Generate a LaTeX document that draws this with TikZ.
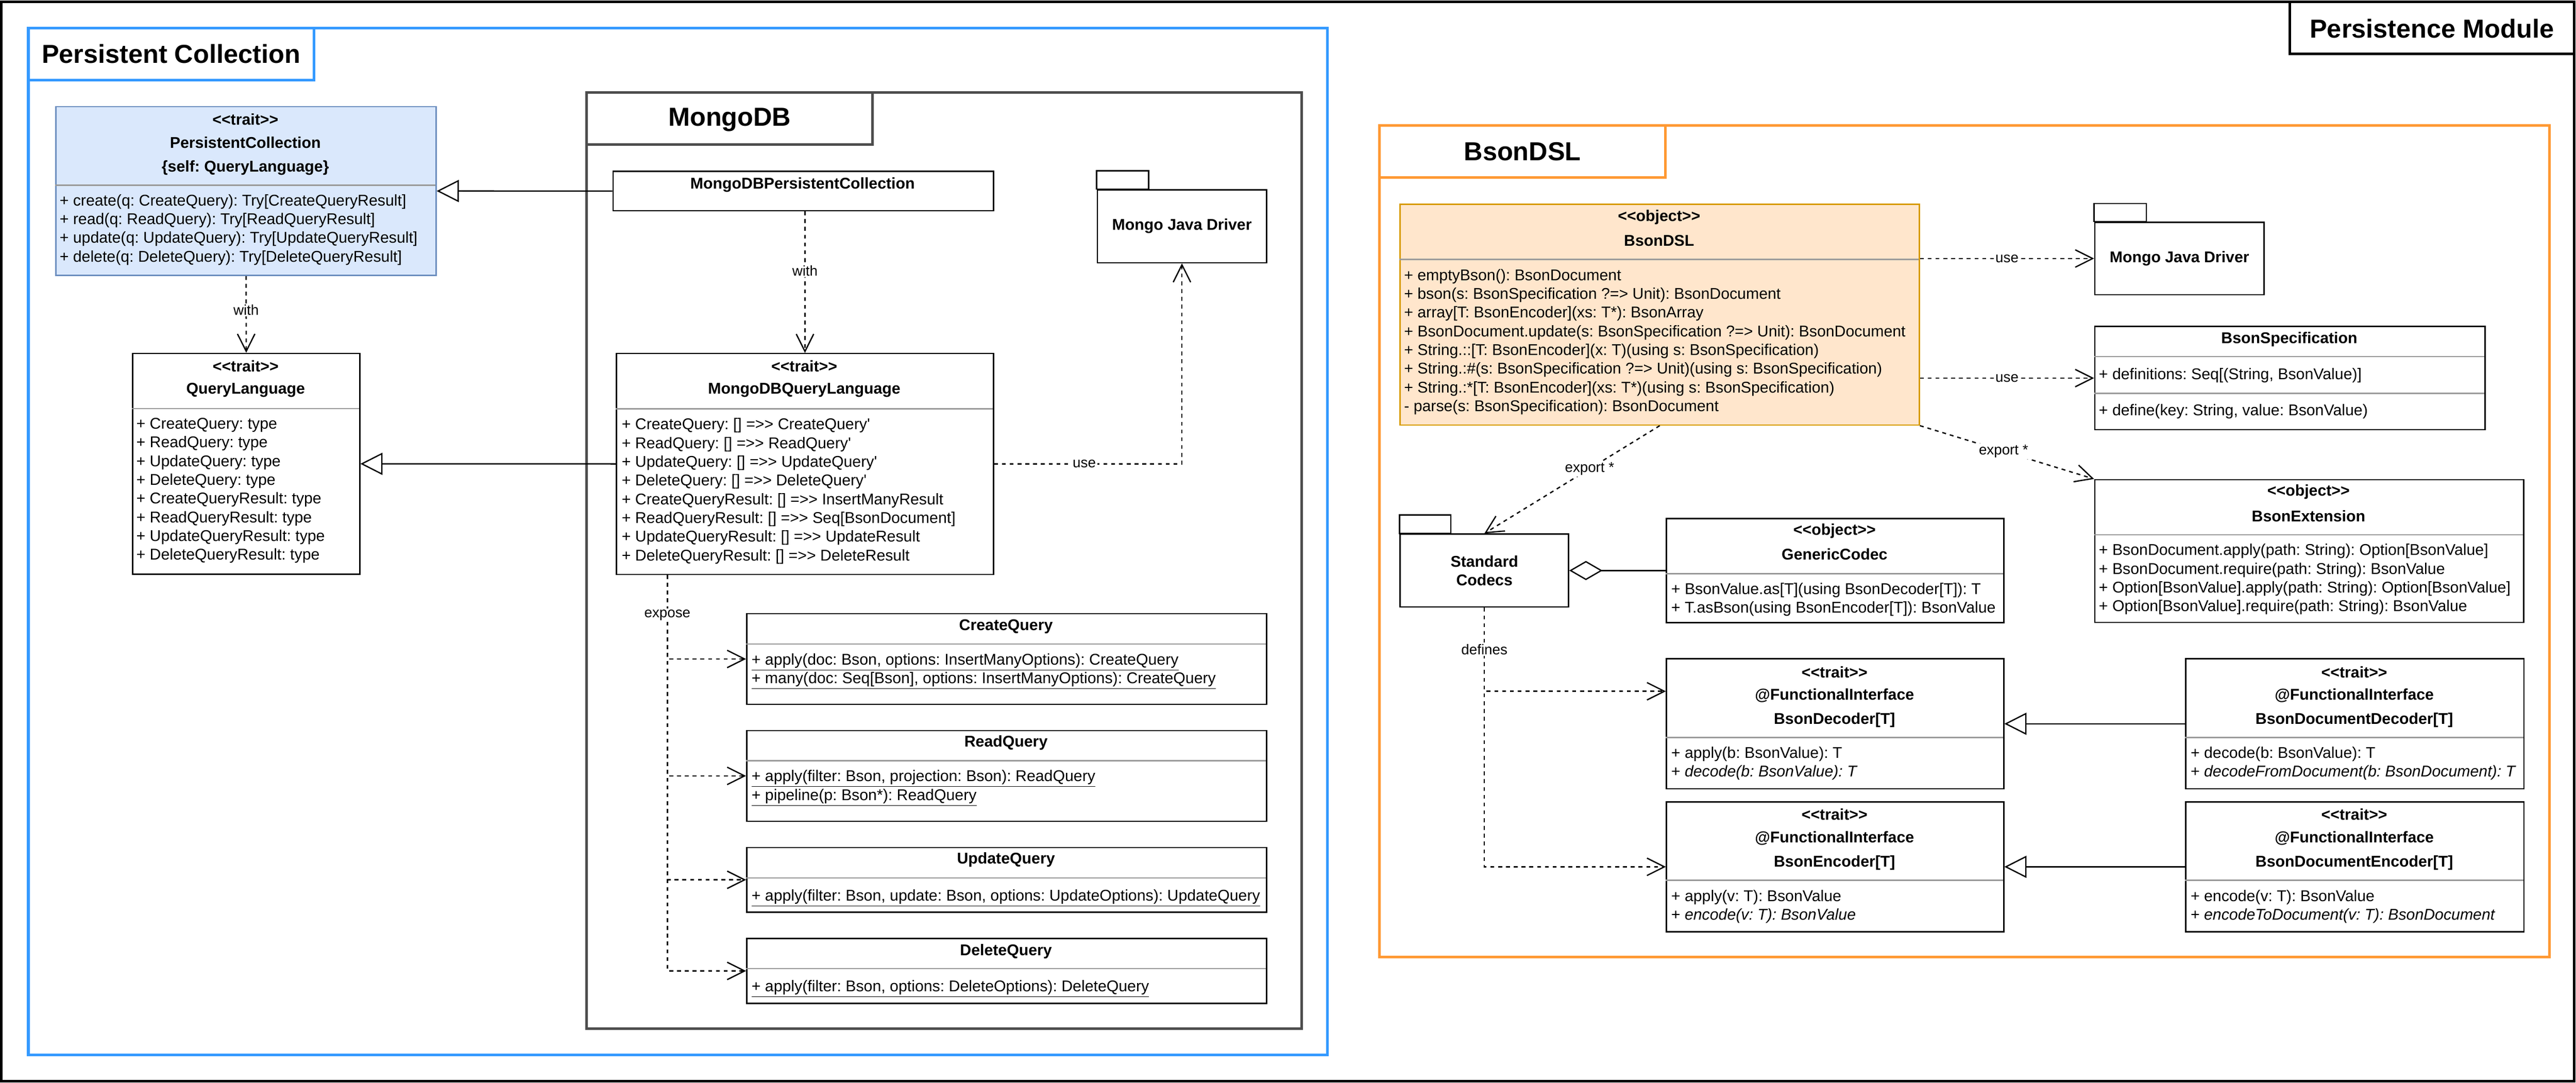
\documentclass[tikz,border=0pt]{standalone}
\usepackage{fontspec}
\setmainfont{Liberation Sans}[Ligatures=TeXOff]
\usepackage{tikz}
\usepackage{xcolor}
\usetikzlibrary{arrows.meta, positioning}

\definecolor{pcblue}{HTML}{3399FF}
\definecolor{mongogrey}{HTML}{4D4D4D}
\definecolor{dslorange}{HTML}{FF9933}
\definecolor{pcfill}{HTML}{DAE8FC}
\definecolor{pcline}{HTML}{6C8EBF}
\definecolor{dslfill}{HTML}{FFE6CC}
\definecolor{dslline}{HTML}{D79B00}
\definecolor{divgrey}{HTML}{999999}

\newcommand{\bodyfont}{\fontsize{12}{14.4}\selectfont\frenchspacing}
\newcommand{\bigfont}{\fontsize{20}{24}\selectfont\bfseries}
\newcommand{\edgefont}{\fontsize{11}{13.2}\selectfont\frenchspacing}

\tikzset{
    frametitle/.style={font=\bigfont, inner sep=0pt},
    classbox/.style={draw, fill=white, line width=1pt, inner sep=0pt, anchor=north west},
    pkgbody/.style={draw, fill=white, line width=1pt, inner sep=0pt, anchor=north west, font=\bodyfont\bfseries, align=center},
    pkgtab/.style={line width=1pt},
    divider/.style={draw=divgrey, line width=1pt},
    header/.style={font=\bodyfont\bfseries, inner sep=0pt},
    member/.style={font=\bodyfont, align=left, inner sep=0pt, anchor=north west, execute at begin node=\strut},
    deplabel/.style={font=\edgefont, fill=white, inner sep=1pt},
    dep/.style={line width=1pt, dash pattern=on 3pt off 3pt, -{Straight Barb[length=13.4pt, width=13.4pt]}},
    generalize/.style={line width=1pt, -{Triangle[length=17pt, width=17pt, fill=white]}},
    aggr/.style={line width=1pt, -{Diamond[length=25.6pt, width=14.8pt, fill=white]}}
}

\begin{document}
\frenchspacing
\begin{tikzpicture}[x=1pt, y=-1pt]
                    \useasboundingbox (0,0) rectangle (1982,833);

                    \draw[line width=2pt] (1,1.4) rectangle (1980.5,831.9);
                    \draw[line width=2pt] (1761.7,1.4) rectangle (1980.5,41.5);
                    \node[frametitle] (moduletitle) at (1871.1,21.8) {Persistence Module};

                    \draw[pcblue, line width=2pt] (21.8,21.5) rectangle (1021.5,811.7);
                    \draw[pcblue, line width=2pt] (21.8,21.5) rectangle (241.5,61.8);
                    \node[frametitle] (pctitle) at (131.6,41.6) {Persistent Collection};

                    \draw[mongogrey, line width=2pt] (451.4,71.3) rectangle (1001.4,791.5);
                    \draw[mongogrey, line width=2pt] (451.4,71.3) rectangle (671.4,111.3);
                    \node[frametitle] (mongotitle) at (561.4,92.3) {MongoDB};

                    \draw[dslorange, line width=2pt] (1061.5,96.5) rectangle (1961.7,736.3);
                    \draw[dslorange, line width=2pt] (1061.5,96.5) rectangle (1281.3,136.4);
                    \node[frametitle] (dsltitle) at (1171.4,116.6) {BsonDSL};

                    \node[classbox, fill=pcfill, draw=pcline, minimum width=292.4pt, minimum height=129.9pt] (pc) at (42.6,81.5) {};
                    \draw[divider] (42.6,142.5) -- (335,142.5);
                    \node[header] (pcst) at (188.8,91.9) {<<trait>>};
                    \node[header] (pcname) at (188.8,109.8) {PersistentCollection};
                    \node[header] (pcself) at (188.8,129) {\{self: QueryLanguage\}};
                    \node[member] (pcm) at (45.7,149.4) {+ create(q: CreateQuery): Try[CreateQueryResult]\\
                        + read(q: ReadQuery): Try[ReadQueryResult]\\
                        + update(q: UpdateQuery): Try[UpdateQueryResult]\\
                        + delete(q: DeleteQuery): Try[DeleteQueryResult]};

                    \node[classbox, minimum width=174.7pt, minimum height=169.9pt] (ql) at (101.6,271.4) {};
                    \draw[divider] (101.6,314.4) -- (276.3,314.4);
                    \node[header] (qlst) at (189,281.7) {<<trait>>};
                    \node[header] (qlname) at (189,300) {QueryLanguage};
                    \node[member] (qlm) at (104.7,321.4) {+ CreateQuery: type\\
                        + ReadQuery: type\\
                        + UpdateQuery: type\\
                        + DeleteQuery: type\\
                        + CreateQueryResult: type\\
                        + ReadQueryResult: type\\
                        + UpdateQueryResult: type\\
                        + DeleteQueryResult: type};

                    \node[classbox, minimum width=292.7pt, minimum height=30.2pt] (mpc) at (471.2,131.4) {};
                    \node[header] (mpcname) at (617.5,142.3) {MongoDBPersistentCollection};

                    \node[classbox, minimum width=290.1pt, minimum height=169.9pt] (mql) at (473.8,271.5) {};
                    \draw[divider] (473.8,314.5) -- (763.9,314.5);
                    \node[header] (mqlst) at (618.8,281.7) {<<trait>>};
                    \node[header] (mqlname) at (618.8,300.1) {MongoDBQueryLanguage};
                    \node[member] (mqlm) at (478.2,321.6) {+ CreateQuery: [] =>> CreateQuery'\\
                        + ReadQuery: [] =>> ReadQuery'\\
                        + UpdateQuery: [] =>> UpdateQuery'\\
                        + DeleteQuery: [] =>> DeleteQuery'\\
                        + CreateQueryResult: [] =>> InsertManyResult\\
                        + ReadQueryResult: [] =>> Seq[BsonDocument]\\
                        + UpdateQueryResult: [] =>> UpdateResult\\
                        + DeleteQueryResult: [] =>> DeleteResult};

                    \node[pkgbody, minimum width=130.2pt, minimum height=56.1pt] (mjd) at (843.8,145.5) {Mongo Java Driver};
                    \draw[pkgtab] (mjd.north west) rectangle ++(40,-14.1);

                    \node[classbox, minimum width=400pt, minimum height=69.6pt] (cq) at (574,471.7) {};
                    \draw[divider] (574,495.5) -- (974,495.5);
                    \node[header] (cqname) at (774,482) {CreateQuery};
                    \node[member] (cqm) at (578.1,502.6) {\underline{+ apply(doc: Bson, options: InsertManyOptions): CreateQuery}\\
                        \underline{+ many(doc: Seq[Bson], options: InsertManyOptions): CreateQuery}};

                    \node[classbox, minimum width=400pt, minimum height=69.7pt] (rq) at (574,561.6) {};
                    \draw[divider] (574,585.3) -- (974,585.3);
                    \node[header] (rqname) at (774,571.6) {ReadQuery};
                    \node[member] (rqm) at (578.1,592.4) {\underline{+ apply(filter: Bson, projection: Bson): ReadQuery}\\
                        \underline{+ pipeline(p: Bson*): ReadQuery}};

                    \node[classbox, minimum width=400pt, minimum height=49.8pt] (uq) at (574,651.5) {};
                    \draw[divider] (574,675.4) -- (974,675.4);
                    \node[header] (uqname) at (774,661.6) {UpdateQuery};
                    \node[member] (uqm) at (578.1,682.7) {\underline{+ apply(filter: Bson, update: Bson, options: UpdateOptions): UpdateQuery}};

                    \node[classbox, minimum width=400pt, minimum height=49.8pt] (dq) at (574,721.6) {};
                    \draw[divider] (574,745.3) -- (974,745.3);
                    \node[header] (dqname) at (774,731.9) {DeleteQuery};
                    \node[member] (dqm) at (578.1,752.6) {\underline{+ apply(filter: Bson, options: DeleteOptions): DeleteQuery}};

                    \node[classbox, fill=dslfill, draw=dslline, minimum width=399.4pt, minimum height=169.9pt] (bdsl) at (1076.8,156.6) {};
                    \draw[divider] (1076.8,199.6) -- (1476.2,199.6);
                    \node[header] (bdslst) at (1276.5,167.1) {<<object>>};
                    \node[header] (bdslname) at (1276.5,185) {BsonDSL};
                    \node[member] (bdslm) at (1080.1,206.8) {+ emptyBson(): BsonDocument\\
                        + bson(s: BsonSpecification ?=> Unit): BsonDocument\\
                        + array[T: BsonEncoder](xs: T*): BsonArray\\
                        + BsonDocument.update(s: BsonSpecification ?=> Unit): BsonDocument\\
                        + String.::[T: BsonEncoder](x: T)(using s: BsonSpecification)\\
                        + String.:\#(s: BsonSpecification ?=> Unit)(using s: BsonSpecification)\\
                        + String.:*[T: BsonEncoder](xs: T*)(using s: BsonSpecification)\\
                        - parse(s: BsonSpecification): BsonDocument};

                    \node[pkgbody, minimum width=130.3pt, minimum height=55.8pt] (mjd2) at (1611.2,170.5) {Mongo Java Driver};
                    \draw[pkgtab] (mjd2.north west) rectangle ++(40.2,-14);

                    \node[classbox, minimum width=300.3pt, minimum height=79.4pt] (bspec) at (1611.2,250.7) {};
                    \draw[divider] (1611.2,274.3) -- (1911.5,274.3);
                    \draw[divider] (1611.2,302.7) -- (1911.5,302.7);
                    \node[header] (bspecname) at (1761.4,260.9) {BsonSpecification};
                    \node[member] (bspecf) at (1614.7,281.6) {+ definitions: Seq[(String, BsonValue)]};
                    \node[member] (bspecm) at (1614.7,309.5) {+ define(key: String, value: BsonValue)};

                    \node[classbox, minimum width=330pt, minimum height=109.9pt] (bext) at (1611.2,368.5) {};
                    \draw[divider] (1611.2,411.4) -- (1941.2,411.4);
                    \node[header] (bextst) at (1776.2,378.6) {<<object>>};
                    \node[header] (bextname) at (1776.2,396.9) {BsonExtension};
                    \node[member] (bextm) at (1614.7,418.4) {+ BsonDocument.apply(path: String): Option[BsonValue]\\
                        + BsonDocument.require(path: String): BsonValue\\
                        + Option[BsonValue].apply(path: String): Option[BsonValue]\\
                        + Option[BsonValue].require(path: String): BsonValue};

                    \node[pkgbody, minimum width=129.6pt, minimum height=56.1pt] (sc) at (1076.8,410.4) {Standard\\Codecs};
                    \draw[pkgtab] (sc.north west) rectangle ++(39.5,-14.2);

                    \node[classbox, minimum width=259.5pt, minimum height=80.1pt] (gc) at (1281.7,398.4) {};
                    \draw[divider] (1281.7,441.4) -- (1541.2,441.4);
                    \node[header] (gcst) at (1411.5,408.7) {<<object>>};
                    \node[header] (gcname) at (1411.5,426.5) {GenericCodec};
                    \node[member] (gcm) at (1285.7,448.4) {+ BsonValue.as[T](using BsonDecoder[T]): T\\
                        + T.asBson(using BsonEncoder[T]): BsonValue};

                    \node[classbox, minimum width=259.5pt, minimum height=100.1pt] (bdec) at (1281.7,506.3) {};
                    \draw[divider] (1281.7,567.5) -- (1541.2,567.5);
                    \node[header] (bdecst) at (1411.5,517) {<<trait>>};
                    \node[header] (bdecfi) at (1411.5,535.2) {@FunctionalInterface};
                    \node[header] (bdecname) at (1411.5,554.1) {BsonDecoder[T]};
                    \node[member] (bdecm) at (1285.7,574.4) {+ apply(b: BsonValue): T\\
                        + \textit{decode(b: BsonValue): T}};

                    \node[classbox, minimum width=259.5pt, minimum height=100pt] (benc) at (1281.7,616.4) {};
                    \draw[divider] (1281.7,677.3) -- (1541.2,677.3);
                    \node[header] (bencst) at (1411.5,626.6) {<<trait>>};
                    \node[header] (bencfi) at (1411.5,644.8) {@FunctionalInterface};
                    \node[header] (bencname) at (1411.5,663.8) {BsonEncoder[T]};
                    \node[member] (bencm) at (1285.7,684.4) {+ apply(v: T): BsonValue\\
                        + \textit{encode(v: T): BsonValue}};

                    \node[classbox, minimum width=260.3pt, minimum height=100.1pt] (bddec) at (1681.2,506.3) {};
                    \draw[divider] (1681.2,567.5) -- (1941.5,567.5);
                    \node[header] (bddecst) at (1811.4,517) {<<trait>>};
                    \node[header] (bddecfi) at (1811.4,535.2) {@FunctionalInterface};
                    \node[header] (bddecname) at (1811.4,554.1) {BsonDocumentDecoder[T]};
                    \node[member] (bddecm) at (1685.3,574.4) {+ decode(b: BsonValue): T\\
                        + \textit{decodeFromDocument(b: BsonDocument): T}};

                    \node[classbox, minimum width=260.3pt, minimum height=100pt] (bdenc) at (1681.2,616.4) {};
                    \draw[divider] (1681.2,677.3) -- (1941.5,677.3);
                    \node[header] (bdencst) at (1811.4,626.6) {<<trait>>};
                    \node[header] (bdencfi) at (1811.4,644.8) {@FunctionalInterface};
                    \node[header] (bdencname) at (1811.4,663.8) {BsonDocumentEncoder[T]};
                    \node[member] (bdencm) at (1685.3,684.4) {+ encode(v: T): BsonValue\\
                        + \textit{encodeToDocument(v: T): BsonDocument}};

                    \coordinate (expo) at ([xshift=39.7pt]mql.south west);

                    \draw[generalize] (mpc.west) -- (pc.east);
                    \draw[generalize] (mql.west) -- (ql.east);
                    \draw[generalize] (bddec.west) -- (bdec.east);
                    \draw[generalize] (bdenc.west) -- (benc.east);
                    \draw[aggr] (gc.west) -- (sc.east);

                    \draw[dep] (pc.south) -- node[deplabel, pos=0.44] {with} (ql.north);
                    \draw[dep] (mql.north |- mpc.south) -- node[deplabel, pos=0.42] {with} (mql.north);
                    \draw[dep] (mql.east) -| node[deplabel, pos=0.24] {use} (mjd.south);
                    \draw[dep] (expo) |- (rq.west);
                    \draw[dep] (expo) |- (uq.west);
                    \draw[dep] (expo) |- (dq.west);
                    \draw[dep] (expo) |- node[deplabel, pos=0.24] {expose} (cq.west);

                    \draw[dep] (bdsl.east |- mjd2.west) -- node[deplabel] {use} (mjd2.west);
                    \draw[dep] (bdsl.east |- bspec.west) -- node[deplabel] {use} (bspec.west);
                    \draw[dep] (bdsl.south) -- node[deplabel, pos=0.4] {export *} (sc.north);
                    \draw[dep] (bdsl.south east) -- node[deplabel, pos=0.48] {export *} (bext.north west);
                    \draw[dep] (sc.south) |- (benc.west);
                    \draw[dep] (sc.south) |- node[deplabel, pos=0.25] {defines} ([yshift=25pt]bdec.west);
                \end{tikzpicture}
\end{document}
